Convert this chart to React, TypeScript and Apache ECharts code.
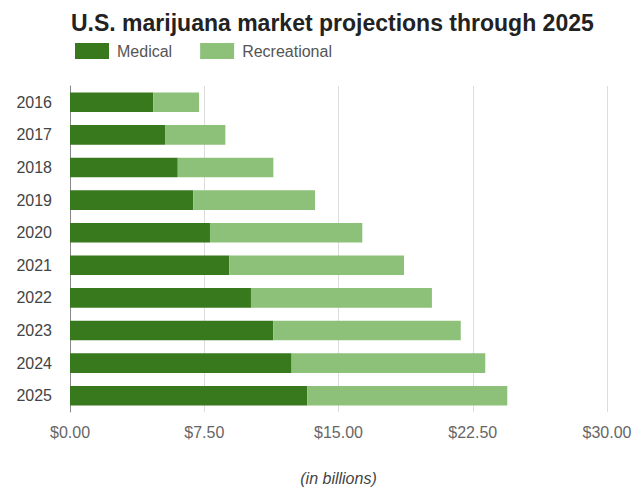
import React, { useEffect, useRef } from "react";
import * as echarts from "echarts";

const years = ["2016", "2017", "2018", "2019", "2020", "2021", "2022", "2023", "2024", "2025"];
const medical = [4.65, 5.31, 6.02, 6.89, 7.82, 8.9, 10.11, 11.36, 12.38, 13.26];
const recreational = [2.56, 3.37, 5.34, 6.8, 8.51, 9.76, 10.11, 10.47, 10.82, 11.17];
const xTicks = [0, 7.5, 15, 22.5, 30];

export default function App() {
  const ref = useRef<HTMLDivElement>(null);
  useEffect(() => {
    if (!ref.current) return;
    const chart = echarts.init(ref.current, null, { renderer: "svg" });
    const font = "Liberation Sans, Arial, sans-serif";
    chart.setOption({
      animation: false,
      backgroundColor: "#ffffff",
      textStyle: { fontFamily: font },
      title: {
        text: "U.S. marijuana market projections through 2025",
        left: 66,
        top: 6,
        textStyle: { fontFamily: font, fontSize: 23, fontWeight: "bold", color: "#222" },
      },
      legend: {
        left: 70,
        top: 38,
        itemWidth: 34,
        itemHeight: 16,
        itemGap: 28,
        icon: "rect",
        textStyle: { fontFamily: font, fontSize: 16, color: "#555", padding: [0, 0, 0, 3] },
        data: ["Medical", "Recreational"],
      },
      grid: { left: 70, right: 32, top: 86, bottom: 74, containLabel: false },
      xAxis: {
        type: "value",
        min: 0,
        max: 30,
        interval: 7.5,
        name: "(in billions)",
        nameLocation: "middle",
        nameGap: 58,
        nameTextStyle: { fontFamily: font, fontSize: 16, fontStyle: "italic", color: "#444" },
        axisLine: { show: false },
        axisTick: { show: false },
        axisLabel: {
          fontFamily: font,
          fontSize: 16,
          color: "#666",
          margin: 12,
          formatter: (v: number) => (xTicks.includes(v) ? "$" + v.toFixed(2) : ""),
        },
        splitLine: { show: true, lineStyle: { color: "#dcdcdc", width: 1 } },
      },
      yAxis: {
        type: "category",
        data: years,
        inverse: true,
        axisLine: { show: true, lineStyle: { color: "#888", width: 1 } },
        axisTick: { show: false },
        axisLabel: { fontFamily: font, fontSize: 16, color: "#444", margin: 18 },
      },
      series: [
        {
          name: "Medical",
          type: "bar",
          stack: "total",
          barWidth: "60%",
          data: medical,
          itemStyle: { color: "#38791d" },
        },
        {
          name: "Recreational",
          type: "bar",
          stack: "total",
          barWidth: "60%",
          data: recreational,
          itemStyle: { color: "#8dc17a" },
        },
      ],
    });
    return () => chart.dispose();
  }, []);
  return <div ref={ref} style={{ width: 639, height: 491, position: "absolute", left: 0, top: 0 }} />;
}
